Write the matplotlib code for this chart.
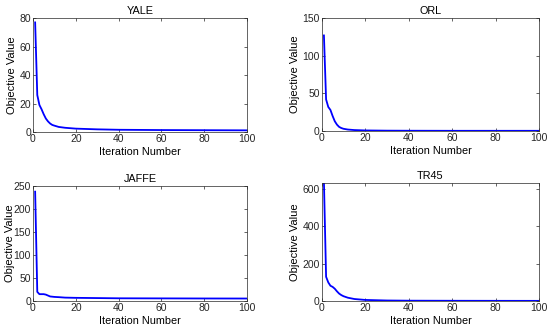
import matplotlib.pyplot as plt

plt.rcParams['font.family'] = ['Liberation Sans', 'DejaVu Sans']

yale_x = [1, 2, 3, 4, 5, 6, 7, 8, 9, 10, 12, 15, 20, 30, 40, 60, 80, 100]
yale_y = [77, 26, 19, 16, 12.5, 9.5, 7.5, 6, 5, 4.5, 3.6, 3, 2.4, 1.9, 1.6, 1.4, 1.3, 1.2]

orl_x = [1, 2, 3, 4, 5, 6, 7, 8, 9, 10, 12, 15, 20, 30, 40, 60, 80, 100]
orl_y = [127, 42, 32, 28, 20, 13, 8.5, 5.5, 4, 3, 2, 1.3, 0.8, 0.5, 0.4, 0.3, 0.3, 0.3]

jaffe_x = [1, 2, 3, 4, 5, 6, 7, 8, 10, 12, 15, 20, 30, 40, 60, 80, 100]
jaffe_y = [238, 20, 15, 15, 15, 14, 12, 10, 9, 8.5, 7.5, 7, 6.5, 6, 5.8, 5.6, 5.5]

tr45_x = [1, 2, 3, 4, 5, 6, 7, 8, 9, 10, 12, 15, 20, 30, 40, 60, 80, 100]
tr45_y = [640, 130, 100, 82, 76, 66, 52, 40, 32, 26, 18, 11, 6, 3, 2, 1.5, 1.2, 1]

panels = [
    ('YALE', yale_x, yale_y, [0.06, 0.607, 0.389, 0.339], 80, [0, 20, 40, 60, 80], -0.075),
    ('ORL', orl_x, orl_y, [0.585, 0.61, 0.395, 0.336], 150, [0, 50, 100, 150], -0.10),
    ('JAFFE', jaffe_x, jaffe_y, [0.06, 0.104, 0.389, 0.342], 250, [0, 50, 100, 150, 200, 250], -0.085),
    ('TR45', tr45_x, tr45_y, [0.585, 0.104, 0.395, 0.351], 632, [0, 200, 400, 600], -0.10),
]

fig = plt.figure(figsize=(5.5, 3.36), dpi=100)
for name, x, y, rect, ymax, yt, ylx in panels:
    ax = fig.add_axes(rect)
    ax.plot(x, y, color='#0000ff', linewidth=1.3)
    ax.set_xlim(0, 100)
    ax.set_ylim(0, ymax)
    ax.set_yticks(yt)
    ax.set_xticks([0, 20, 40, 60, 80, 100])
    ax.set_title(name, fontsize=7.8, pad=3)
    ax.set_xlabel('Iteration Number', fontsize=7.8, labelpad=2)
    ax.set_ylabel('Objective Value', fontsize=8)
    ax.yaxis.set_label_coords(ylx, 0.5)
    ax.tick_params(direction='in', top=True, right=True, length=2.5,
                   width=0.5, labelsize=7.5, pad=1.5, colors='#262626')
    for s in ax.spines.values():
        s.set_linewidth(0.5)
        s.set_color('#262626')

fig.savefig('out.png', dpi=100)
